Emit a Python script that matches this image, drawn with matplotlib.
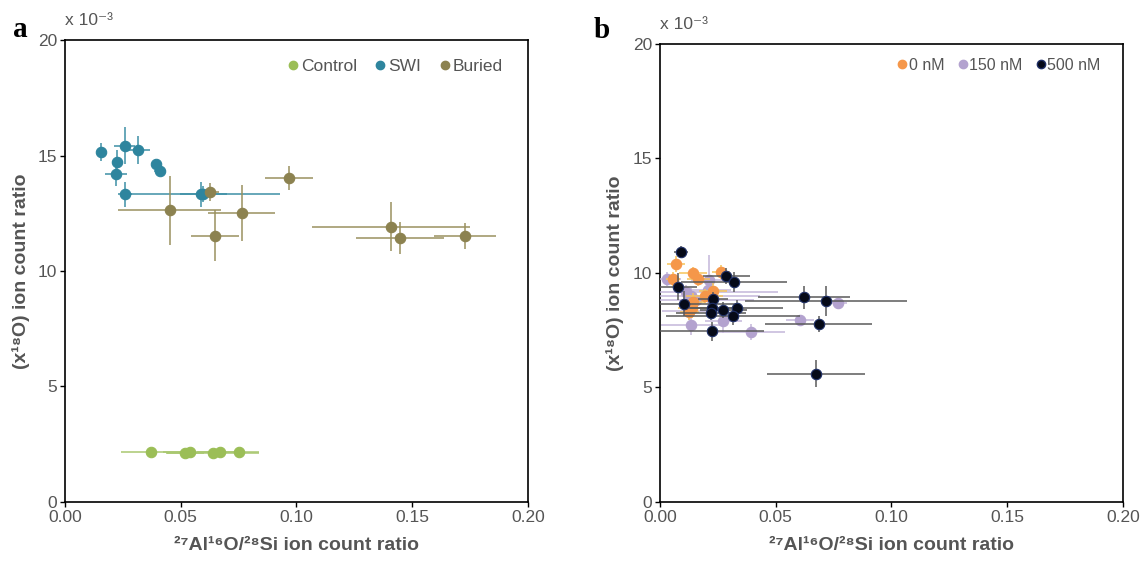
import matplotlib
matplotlib.use("Agg")
import matplotlib.pyplot as plt
from matplotlib.lines import Line2D

plt.rcParams['font.family'] = ['Liberation Sans', 'DejaVu Sans']

# ---- panel a ----
control_x = [0.0371, 0.0520, 0.0542, 0.0638, 0.0671, 0.0750]
control_y = [2.15, 2.10, 2.18, 2.10, 2.17, 2.15]
control_xerr = [0.013, 0.008, 0.012, 0.020, 0.010, 0.009]
control_yerr = [0.05, 0.05, 0.05, 0.05, 0.05, 0.05]

swi_x = [0.0154, 0.0226, 0.0220, 0.0257, 0.0315, 0.0392, 0.0410, 0.0258, 0.0589, 0.0598]
swi_y = [15.16, 14.73, 14.22, 15.42, 15.23, 14.62, 14.32, 13.32, 13.32, 13.32]
swi_xerr = [0.001, 0.0025, 0.0046, 0.0046, 0.005, 0.001, 0.0025, 0.003, 0.034, 0.010]
swi_yerr = [0.40, 0.50, 0.55, 0.80, 0.60, 0.15, 0.15, 0.55, 0.55, 0.35]

buried_x = [0.0625, 0.0452, 0.0763, 0.0648, 0.0969, 0.1409, 0.1449, 0.1728]
buried_y = [13.42, 12.62, 12.51, 11.52, 14.02, 11.92, 11.42, 11.52]
buried_xerr = [0.004, 0.0222, 0.0145, 0.0104, 0.0103, 0.034, 0.019, 0.0135]
buried_yerr = [0.40, 1.50, 1.20, 1.10, 0.53, 1.06, 0.69, 0.56]

# ---- panel b ----
nm0_x = [0.0069, 0.0055, 0.0144, 0.0166, 0.0264, 0.0230, 0.0194, 0.0144, 0.0137, 0.0127]
nm0_y = [10.41, 9.75, 10.00, 9.75, 10.04, 9.23, 8.98, 8.73, 8.47, 8.29]
nm0_xerr = [0.004, 0.003, 0.006, 0.005, 0.004, 0.006, 0.008, 0.005, 0.006, 0.004]
nm0_yerr = [0.35, 0.30, 0.25, 0.30, 0.30, 0.35, 0.30, 0.40, 0.45, 0.35]

nm150_x = [0.0029, 0.0213, 0.0112, 0.0133, 0.0156, 0.0209, 0.0127, 0.0133, 0.0274, 0.0392, 0.0606, 0.0770]
nm150_y = [9.75, 9.71, 9.17, 8.98, 8.83, 9.27, 8.35, 7.74, 7.89, 7.41, 7.96, 8.67]
nm150_xerr = [0.006, 0.008, 0.040, 0.030, 0.025, 0.010, 0.012, 0.013, 0.008, 0.015, 0.006, 0.004]
nm150_yerr = [0.30, 1.07, 0.30, 0.35, 0.30, 0.60, 0.40, 0.45, 0.50, 0.35, 0.20, 0.25]

nm500_x = [0.0089, 0.0079, 0.0104, 0.0287, 0.0320, 0.0228, 0.0225, 0.0220, 0.0274,
           0.0331, 0.0317, 0.0225, 0.0623, 0.0717, 0.0685, 0.0674]
nm500_y = [10.93, 9.40, 8.66, 9.88, 9.61, 8.88, 8.47, 8.25, 8.38,
           8.47, 8.12, 7.45, 8.94, 8.76, 7.77, 5.60]
nm500_xerr = [0.003, 0.008, 0.023, 0.010, 0.023, 0.0065, 0.010, 0.015, 0.010,
              0.020, 0.029, 0.0225, 0.020, 0.035, 0.023, 0.021]
nm500_yerr = [0.25, 0.60, 0.55, 0.35, 0.45, 0.30, 0.35, 0.30, 0.35,
              0.35, 0.40, 0.40, 0.50, 0.65, 0.35, 0.60]

grey = '#555555'

fig = plt.figure(figsize=(11.43, 5.62), dpi=100)
ax_a = fig.add_axes([0.0569, 0.1068, 0.405, 0.822])
ax_b = fig.add_axes([0.5774, 0.1068, 0.405, 0.815])


def draw_series(ax, x, y, xerr, yerr, color, ecolor, edge=None, z=3):
    ax.errorbar(x, y, xerr=xerr, yerr=yerr, fmt='none', ecolor=ecolor,
                elinewidth=1.1, capsize=0, zorder=z)
    ax.plot(x, y, 'o', color=color, markersize=7.5,
            markeredgecolor=edge if edge else color, markeredgewidth=0.8,
            zorder=z + 0.5, linestyle='none')


draw_series(ax_a, control_x, control_y, control_xerr, control_yerr, '#9BBE56', '#A9C870')
draw_series(ax_a, swi_x, swi_y, swi_xerr, swi_yerr, '#2E859E', '#3D8FA6')
draw_series(ax_a, buried_x, buried_y, buried_xerr, buried_yerr, '#8C8250', '#9A915F')

draw_series(ax_b, nm150_x, nm150_y, nm150_xerr, nm150_yerr, '#B3A2CF', '#C3B6DA', z=3)
draw_series(ax_b, nm0_x, nm0_y, nm0_xerr, nm0_yerr, '#F5974A', '#F6C55A', z=4)
draw_series(ax_b, nm500_x, nm500_y, nm500_xerr, nm500_yerr, '#060A18', '#5A5A5A',
            edge='#1F2F66', z=5)

for ax in (ax_a, ax_b):
    ax.set_xlim(0, 0.20)
    ax.set_ylim(0, 20)
    ax.set_xticks([0.00, 0.05, 0.10, 0.15, 0.20])
    ax.set_xticklabels(['0.00', '0.05', '0.10', '0.15', '0.20'])
    ax.set_yticks([0, 5, 10, 15, 20])
    ax.tick_params(direction='out', length=3.5, width=1, labelsize=12.5,
                   labelcolor=grey, pad=2)
    for s in ax.spines.values():
        s.set_linewidth(1.2)
    ax.set_xlabel('²⁷Al¹⁶O/²⁸Si ion count ratio', fontsize=14, fontweight='bold',
                  color=grey, labelpad=9)
    ax.set_ylabel('(x¹⁸O) ion count ratio', fontsize=14, fontweight='bold',
                  color=grey, labelpad=6)
    ax.text(0.0, 1.025, 'x 10⁻³', transform=ax.transAxes, fontsize=12.5,
            color=grey, ha='left', va='bottom')

handles_a = [Line2D([], [], marker='o', linestyle='none', color=c, markersize=6)
             for c in ['#9BBE56', '#2E859E', '#8C8250']]
ax_a.legend(handles_a, ['Control', 'SWI', 'Buried'], loc='center right', ncol=3,
            frameon=False, fontsize=12.5, handlelength=0.5, handletextpad=0.2,
            columnspacing=1.1, borderpad=0, borderaxespad=0, labelcolor=grey,
            bbox_to_anchor=(0.945, 0.942))

handles_b = [Line2D([], [], marker='o', linestyle='none', color=c, markersize=6,
                    markeredgecolor=e)
             for c, e in [('#F5974A', '#F5974A'), ('#B3A2CF', '#B3A2CF'), ('#060A18', '#1F2F66')]]
ax_b.legend(handles_b, ['0 nM', '150 nM', '500 nM'], loc='center right', ncol=3,
            frameon=False, fontsize=11.5, handlelength=0.5, handletextpad=0.15,
            columnspacing=0.9, borderpad=0, borderaxespad=0, labelcolor=grey,
            bbox_to_anchor=(0.952, 0.954))

fig.text(0.011, 0.935, 'a', fontsize=21, fontweight='bold', family='Liberation Serif')
fig.text(0.519, 0.932, 'b', fontsize=21, fontweight='bold', family='Liberation Serif')

fig.savefig('out.png', dpi=100)
